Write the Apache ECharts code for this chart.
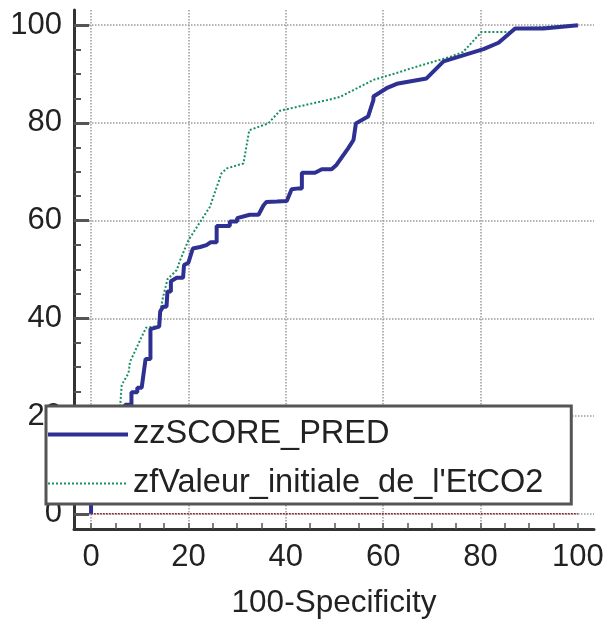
<!DOCTYPE html>
<html>
<head>
<meta charset="utf-8">
<script src="https://cdn.jsdelivr.net/npm/echarts@6/dist/echarts.min.js"></script>
<style>
html,body{margin:0;padding:0;background:#fff;}
#chart{width:610px;height:625px;}
</style>
</head>
<body>
<div id="chart"></div>
<script>
// ---- data ----
const seriesNames = ['zzSCORE_PRED', "zfValeur_initiale_de_l'EtCO2"];
const scoreX = [0, 0, 2, 3, 5, 6, 7.0, 8.3, 8.3, 9.5, 9.5, 10.4, 11.2, 12.2, 12.2, 14.0, 14.2, 14.8, 15.5, 15.7, 16.4, 16.4, 17.6, 18.9, 19.1, 20.0, 20.9, 22.4, 23.7, 24.6, 25.8, 25.8, 28.5, 28.5, 30.0, 30.0, 32.6, 34.4, 35.4, 36.0, 38.2, 40.2, 41.2, 42.6, 43.3, 43.3, 46.0, 47.4, 49.4, 50.4, 52.8, 53.9, 54.4, 56.9, 58.0, 58.0, 60.7, 62.8, 68.9, 72.4, 80.6, 83.7, 87.1, 92.9, 100];
const scoreY = [0, 3, 6, 10, 14, 18, 22.3, 22.3, 24.9, 24.9, 25.8, 25.8, 31.7, 31.7, 37.8, 38.3, 41.4, 42.4, 42.4, 45.5, 45.5, 47.6, 48.3, 48.3, 50.9, 51.4, 54.3, 54.6, 55.0, 55.6, 55.6, 58.9, 58.9, 59.8, 59.8, 60.5, 61.2, 61.2, 63.1, 63.8, 63.9, 64.0, 66.4, 66.6, 66.6, 69.8, 69.8, 70.5, 70.5, 71.4, 74.8, 76.5, 79.9, 81.3, 84.7, 85.4, 87.1, 88.0, 89.1, 92.6, 95.1, 96.4, 99.3, 99.3, 100];
const etco2X = [0, 0, 2, 4, 6.0, 6.3, 7.7, 8.0, 10.1, 11.3, 13.8, 14.2, 14.8, 15.7, 17.6, 18.3, 20.0, 22.0, 24.4, 26.8, 27.9, 31.3, 32.5, 36.4, 38.8, 40.2, 49.1, 51.1, 58.0, 63.4, 65.5, 73.7, 76.4, 80.2, 86.4, 87.1, 100];
const etco2Y = [0, 5, 10, 16, 22.3, 26.4, 28.8, 31.1, 35.6, 38.1, 38.4, 41.4, 44.4, 48.0, 49.9, 51.9, 56.0, 59.1, 62.8, 69.7, 70.7, 71.7, 78.5, 79.9, 82.5, 82.8, 84.8, 85.3, 88.8, 90.4, 91.1, 93.5, 94.5, 98.6, 98.6, 99.3, 100];
const refX = [0, 100];
const refY = [0, 0];
const majorTicks = [0, 20, 40, 60, 80, 100];
const minorTicks = [0, 5, 10, 15, 20, 25, 30, 35, 40, 45, 50, 55, 60, 65, 70, 75, 80, 85, 90, 95, 100];
const vGridValues = [0, 20, 40, 60, 80];
const xTitle = '100-Specificity';

const zip = (a, b) => a.map((v, i) => [v, b[i]]);
const FONT = 'Liberation Sans, Arial, sans-serif';
const xMin = -3.5, xMax = 103.3, yMin = -3.1, yMax = 103.1;
const BLUE = '#2e3192', GREEN = '#1a8f5f';

const chart = echarts.init(document.getElementById('chart'));
chart.setOption({
  animation: false,
  backgroundColor: '#fff',
  textStyle: { fontFamily: FONT },
  grid: { left: 74, right: 16, top: 10, bottom: 96, containLabel: false },
  legend: {
    data: [
      { name: seriesNames[0], lineStyle: { color: BLUE, width: 4, type: 'solid' } },
      { name: seriesNames[1], lineStyle: { color: GREEN, width: 2, type: 'dotted' } }
    ],
    orient: 'vertical',
    left: 46, top: 406,
    backgroundColor: '#fff',
    borderColor: '#555',
    borderWidth: 3,
    borderRadius: 0,
    padding: [12, 28, 4, 0],
    itemGap: 16,
    itemWidth: 80,
    itemHeight: 14,
    itemStyle: { opacity: 0 },
    textStyle: { fontSize: 32.5, color: '#222', fontFamily: FONT },
    z: 10
  },
  xAxis: [
    {
      type: 'value', min: xMin, max: xMax, position: 'bottom',
      axisLine: { show: true, onZero: false, lineStyle: { color: '#333', width: 3 } },
      axisTick: { show: true, inside: true, length: 6, customValues: minorTicks, lineStyle: { color: '#555', width: 1.5 } },
      axisLabel: { customValues: majorTicks, fontSize: 31, color: '#222', margin: 13, fontFamily: FONT },
      splitLine: { show: false },
      name: xTitle, nameLocation: 'middle', nameGap: 58,
      nameTextStyle: { fontSize: 31.5, color: '#222', fontFamily: FONT }
    },
    {
      type: 'value', min: xMin, max: xMax, position: 'bottom',
      axisLine: { show: false, onZero: false },
      axisTick: { show: false, customValues: vGridValues },
      axisLabel: { show: false },
      splitLine: { show: true, lineStyle: { color: '#9a9a9a', width: 1.5, type: 'dotted' } }
    }
  ],
  yAxis: [
    {
      type: 'value', min: yMin, max: yMax, position: 'left',
      axisLine: { show: true, onZero: false, lineStyle: { color: '#333', width: 3 } },
      axisTick: { show: true, inside: true, length: 15, customValues: majorTicks, lineStyle: { color: '#555', width: 3 } },
      axisLabel: { customValues: majorTicks, fontSize: 31, color: '#222', margin: 12, fontFamily: FONT },
      splitLine: { show: true, lineStyle: { color: '#9a9a9a', width: 1.5, type: 'dotted' } }
    },
    {
      type: 'value', min: yMin, max: yMax, position: 'left',
      axisLine: { show: false, onZero: false },
      axisTick: { show: true, inside: true, length: 7, customValues: minorTicks, lineStyle: { color: '#555', width: 2 } },
      axisLabel: { show: false },
      splitLine: { show: false }
    }
  ],
  series: [
    {
      name: 'ref', type: 'line', data: zip(refX, refY), symbol: 'none',
      lineStyle: { color: '#8b1a1a', width: 1.5, type: 'dotted' }, z: 2, silent: true
    },
    {
      name: seriesNames[1], type: 'line', data: zip(etco2X, etco2Y), symbol: 'none',
      lineStyle: { color: GREEN, width: 2, type: 'dotted' }, itemStyle: { color: GREEN }, z: 3
    },
    {
      name: seriesNames[0], type: 'line', data: zip(scoreX, scoreY), symbol: 'none',
      lineStyle: { color: BLUE, width: 4 }, itemStyle: { color: BLUE }, z: 4
    }
  ]
});
</script>
</body>
</html>
